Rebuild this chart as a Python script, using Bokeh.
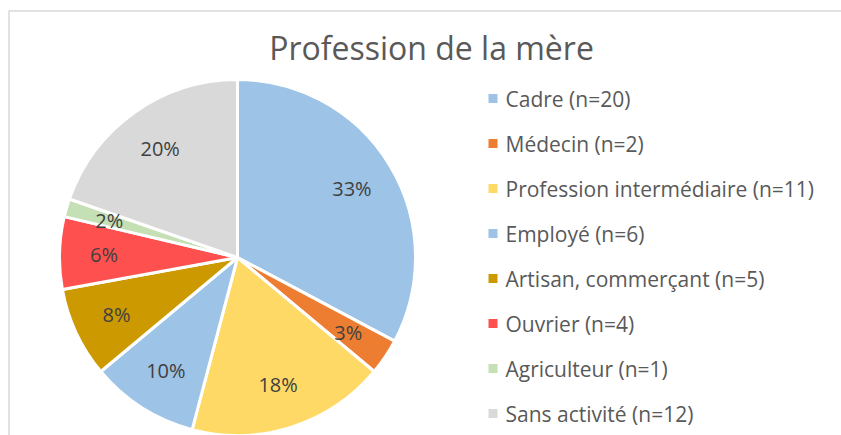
import numpy as np
from bokeh.plotting import figure
from bokeh.models import Range1d, ColumnDataSource
from bokeh.core.properties import value
from bokeh.embed import file_html
from bokeh.resources import INLINE

# ---- data ----
title = "Profession de la mère"
categories = ["Cadre", "Médecin", "Profession intermédiaire", "Employé",
              "Artisan, commerçant", "Ouvrier", "Agriculteur", "Sans activité"]
counts = [20, 2, 11, 6, 5, 4, 1, 12]
pct_labels = ["33%", "3%", "18%", "10%", "8%", "6%", "2%", "20%"]
colors = ["#9DC3E6", "#ED7D31", "#FFD966", "#9DC3E6",
          "#CC9900", "#FF5050", "#C5E0B4", "#D9D9D9"]

# ---- layout (pixel-like data units, y up) ----
W, H = 841, 435
FONT = "Open Sans"

def px(x):
    return x

def py(y):
    return H - y

p = figure(width=W, height=H, x_range=Range1d(0, W), y_range=Range1d(0, H),
           output_backend="svg", toolbar_location=None, min_border=0,
           x_axis_type=None, y_axis_type=None)
p.grid.visible = False
p.outline_line_color = None
p.background_fill_color = "white"
p.border_fill_color = "white"

# chart border (top and left visible)
p.line(x=[px(8.5), px(8.5), W], y=[0, py(10.5), py(10.5)], line_color="#D9D9D9", line_width=1.5)

# ---- pie ----
cx, cy, R = px(237), py(257), 178
total = float(sum(counts))
cum = np.concatenate([[0], np.cumsum(counts)])
start = np.pi / 2 - cum[:-1] / total * 2 * np.pi
end = np.pi / 2 - cum[1:] / total * 2 * np.pi
mid = (start + end) / 2

src = ColumnDataSource(dict(start=start, end=end, color=colors))
p.wedge(x=cx, y=cy, radius=R, start_angle="start", end_angle="end",
        direction="clock", fill_color="color", line_color="white",
        line_width=3, source=src)

lr = 0.75 * R
lab = ColumnDataSource(dict(x=cx + lr * np.cos(mid), y=cy + lr * np.sin(mid), t=pct_labels))
p.text(x="x", y="y", text="t", source=lab, text_font=value(FONT),
       text_font_size="20px", text_color="#404040",
       text_align="center", text_baseline="middle")

# ---- title ----
p.text(x=[px(431)], y=[py(47)], text=[title], text_font=value(FONT),
       text_font_size="32px", text_color="#595959",
       text_align="center", text_baseline="middle")

# ---- legend ----
n = len(categories)
leg_y = py(98) - 45 * np.arange(n)
leg_text = [f"{c} (n={v})" for c, v in zip(categories, counts)]
p.rect(x=[px(492.5)] * n, y=leg_y, width=9, height=9, fill_color=colors, line_color=None)
p.text(x=[px(505)] * n, y=leg_y, text=leg_text, text_font=value(FONT),
       text_font_size="21px", text_color="#595959",
       text_align="left", text_baseline="middle")

open("out.html", "w").write(file_html(p, INLINE))
